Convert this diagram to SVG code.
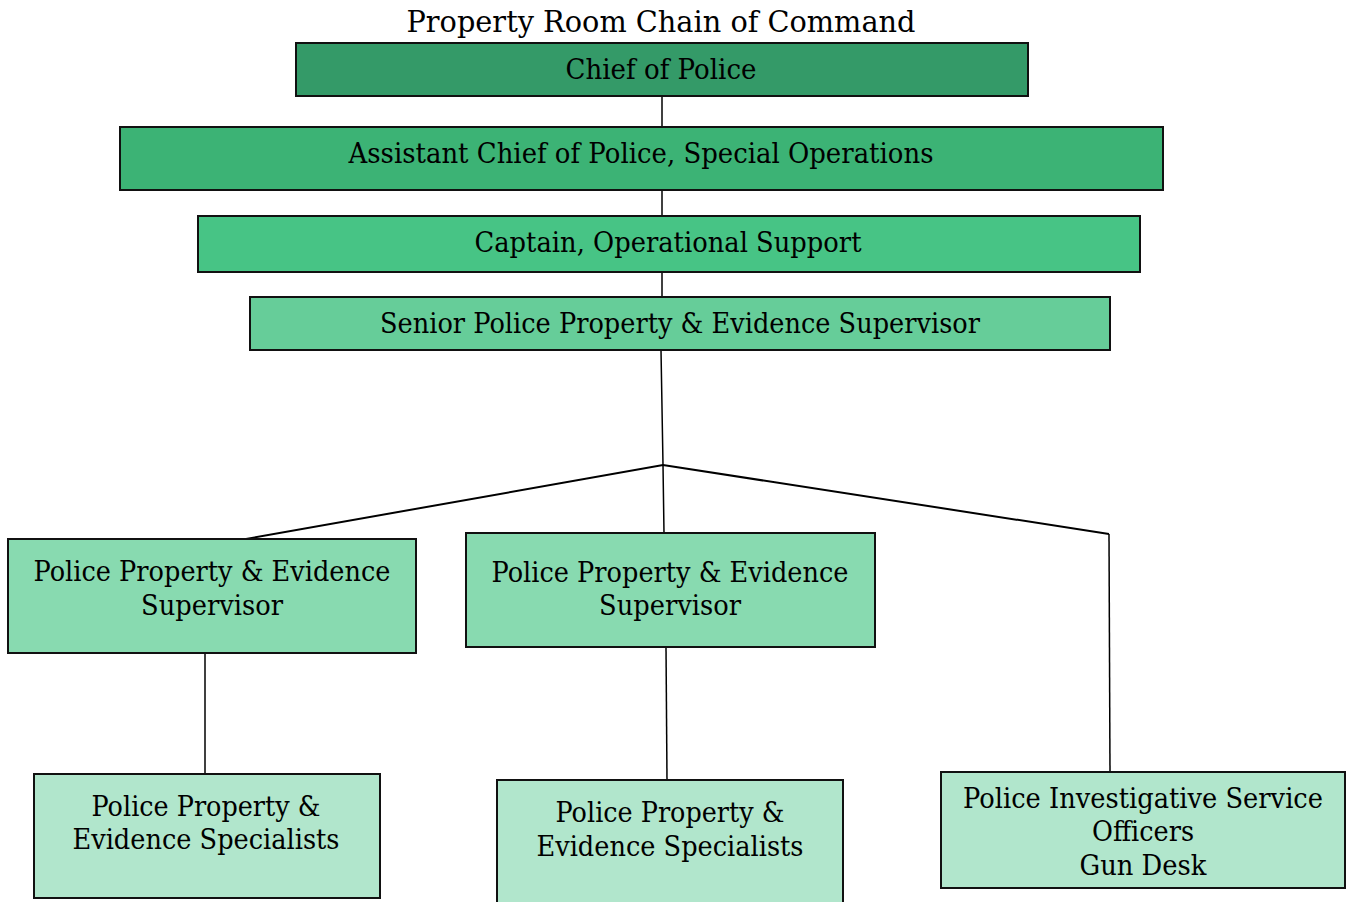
<svg xmlns="http://www.w3.org/2000/svg" width="1348" height="902" viewBox="0 0 1348 902">
<style>
text{font-family:"DejaVu Serif","Liberation Serif",serif;font-size:27px;fill:#000;text-anchor:middle}
.title{font-size:30px}
.box{stroke:#111;stroke-width:2}
.c1{fill:#349a68}.c2{fill:#3cb375}.c3{fill:#47c485}.c4{fill:#66cd99}.c5{fill:#88dab0}.c6{fill:#b1e6cc}
.conn{stroke:#000;stroke-width:1.5;fill:none}
.diag{stroke-width:2}
</style>
<rect width="1348" height="902" fill="#fff"/>
<text class="title" x="661" y="32" textLength="509" lengthAdjust="spacingAndGlyphs">Property Room Chain of Command</text>
<g id="connectors">
<line class="conn" x1="662" y1="96" x2="662" y2="127"/>
<line class="conn" x1="662" y1="190" x2="662" y2="216"/>
<line class="conn" x1="662" y1="272" x2="662" y2="297"/>
<polyline class="conn" points="661,350 663,465 664,533"/>
<polyline class="conn diag" points="246,539 663,465 1109,534"/>
<line class="conn" x1="1109" y1="534" x2="1110" y2="773"/>
<line class="conn" x1="205" y1="653" x2="205" y2="774"/>
<line class="conn" x1="666" y1="647" x2="667" y2="780"/>
</g>
<g id="chief">
<rect class="box c1" x="296" y="43" width="732" height="53"/>
<text x="661" y="79" textLength="191" lengthAdjust="spacingAndGlyphs">Chief of Police</text>
</g>
<g id="assistant">
<rect class="box c2" x="120" y="127" width="1043" height="63"/>
<text x="641" y="163" textLength="585" lengthAdjust="spacingAndGlyphs">Assistant Chief of Police, Special Operations</text>
</g>
<g id="captain">
<rect class="box c3" x="198" y="216" width="942" height="56"/>
<text x="668" y="252" textLength="387" lengthAdjust="spacingAndGlyphs">Captain, Operational Support</text>
</g>
<g id="senior">
<rect class="box c4" x="250" y="297" width="860" height="53"/>
<text x="680" y="333" textLength="600" lengthAdjust="spacingAndGlyphs">Senior Police Property &amp; Evidence Supervisor</text>
</g>
<g id="supervisor-left">
<rect class="box c5" x="8" y="539" width="408" height="114"/>
<text x="212" y="581" textLength="357" lengthAdjust="spacingAndGlyphs">Police Property &amp; Evidence</text>
<text x="212" y="615" textLength="142" lengthAdjust="spacingAndGlyphs">Supervisor</text>
</g>
<g id="supervisor-middle">
<rect class="box c5" x="466" y="533" width="409" height="114"/>
<text x="670" y="582" textLength="357" lengthAdjust="spacingAndGlyphs">Police Property &amp; Evidence</text>
<text x="670" y="615" textLength="142" lengthAdjust="spacingAndGlyphs">Supervisor</text>
</g>
<g id="specialists-left">
<rect class="box c6" x="34" y="774" width="346" height="124"/>
<text x="206" y="816" textLength="229" lengthAdjust="spacingAndGlyphs">Police Property &amp;</text>
<text x="206" y="849" textLength="267" lengthAdjust="spacingAndGlyphs">Evidence Specialists</text>
</g>
<g id="specialists-middle">
<rect class="box c6" x="497" y="780" width="346" height="130"/>
<text x="670" y="822" textLength="229" lengthAdjust="spacingAndGlyphs">Police Property &amp;</text>
<text x="670" y="856" textLength="267" lengthAdjust="spacingAndGlyphs">Evidence Specialists</text>
</g>
<g id="investigative">
<rect class="box c6" x="941" y="772" width="404" height="116"/>
<text x="1143" y="808" textLength="360" lengthAdjust="spacingAndGlyphs">Police Investigative Service</text>
<text x="1143" y="841" textLength="102" lengthAdjust="spacingAndGlyphs">Officers</text>
<text x="1143" y="875" textLength="127" lengthAdjust="spacingAndGlyphs">Gun Desk</text>
</g>
</svg>
